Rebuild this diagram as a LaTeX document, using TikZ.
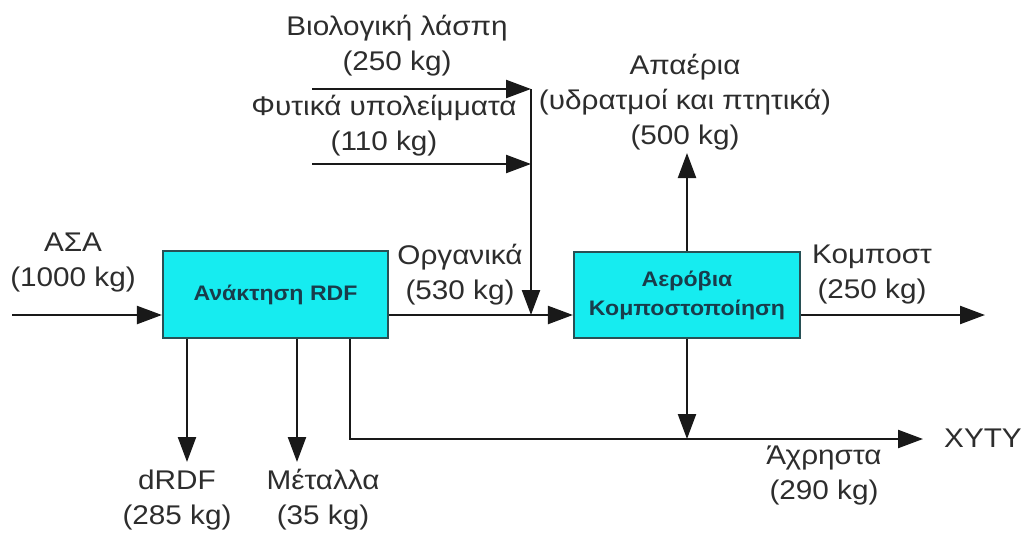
\documentclass[tikz,border=0pt]{standalone}
\usepackage{fontspec}
\setmainfont{Liberation Sans}[FakeStretch=1.1]
\usetikzlibrary{arrows.meta}
\definecolor{boxfill}{RGB}{22,236,240}
\definecolor{boxedge}{RGB}{40,80,85}
\definecolor{boxtext}{RGB}{25,60,75}
\definecolor{ink}{RGB}{45,45,45}
\definecolor{lineink}{RGB}{25,25,25}
\tikzset{
  procbox/.style={draw=boxedge, line width=2.2pt, fill=boxfill, rectangle, inner sep=0pt,
    text=boxtext, font=\fontsize{21}{29}\selectfont\bfseries, align=center},
  lbl/.style={text=ink, font=\fontsize{27}{35}\selectfont, align=center, inner sep=0pt},
  flow/.style={draw=lineink, line width=2.3pt, -{Triangle[length=25pt,width=18pt]}},
  plain/.style={draw=lineink, line width=2.3pt}
}
\begin{document}
\begin{tikzpicture}[x=1pt,y=-1pt]
\useasboundingbox (0,0) rectangle (1024,533);
% process boxes
\node[procbox, minimum width=225pt, minimum height=87pt] (rdf) at (275.5,294.5) {Ανάκτηση RDF};
\node[procbox, minimum width=226pt, minimum height=86pt] (comp) at (687,295) {Αερόβια\\Κομποστοποίηση};
% coordinates
\coordinate (asa) at (12,315);
\coordinate (vtop) at (531,89);
\coordinate (b1s) at (312,89);
\coordinate (f2s) at (312,164);
\coordinate (kout) at (985,315);
\coordinate (aerout) at (687,153);
\coordinate (junk) at (687,439);
\coordinate (drdf) at (187,462);
\coordinate (met) at (297,462);
\coordinate (wcorner) at (350,439);
\coordinate (xyty) at (923,439);
% connectors
\draw[flow] (asa) -- (rdf.west |- asa);
\draw[flow] (rdf.east |- asa) -- (comp.west |- asa);
\draw[flow] (b1s) -- (vtop);
\draw[flow] (f2s) -- (vtop |- f2s);
\draw[flow] (vtop) -- (vtop |- asa);
\draw[flow] (comp.east |- asa) -- (kout);
\draw[flow] (comp.north) -- (aerout);
\draw[flow] (comp.south) -- (junk);
\draw[flow] (drdf |- rdf.south) -- (drdf);
\draw[flow] (met |- rdf.south) -- (met);
\draw[flow] (wcorner |- rdf.south) -- (wcorner) -- (xyty);
% labels
\node[lbl] (lasa) at (73,263) {ΑΣΑ\\(1000 kg)};
\node[lbl] (lbio) at (397,46) {Βιολογική λάσπη\\(250 kg)};
\node[lbl] (lfyt) at (384,126) {Φυτικά υπολείμματα\\(110 kg)};
\node[lbl] (lorg) at (460,275) {Οργανικά\\(530 kg)};
\node[lbl] (laer) at (685,102) {Απαέρια\\(υδρατμοί και πτητικά)\\(500 kg)};
\node[lbl] (lkom) at (872,275) {Κομποστ\\(250 kg)};
\node[lbl] (ldrdf) at (177,500) {dRDF\\(285 kg)};
\node[lbl] (lmet) at (323,500) {Μέταλλα\\(35 kg)};
\node[lbl] (lach) at (824,475) {Άχρηστα\\(290 kg)};
\node[lbl] (lxyty) at (983,438) {XYTY};
\end{tikzpicture}
\end{document}
